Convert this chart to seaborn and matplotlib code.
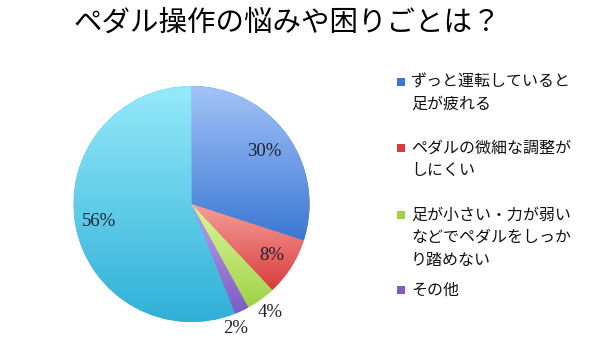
import numpy as np
import matplotlib
matplotlib.use("Agg")
import matplotlib.pyplot as plt
import seaborn as sns
from matplotlib.colors import LinearSegmentedColormap
from matplotlib.patches import Rectangle

# data
legend_lines = [["ずっと運転していると", "足が疲れる"],
                ["ペダルの微細な調整が", "しにくい"],
                ["足が小さい・力が弱い", "などでペダルをしっか", "り踏めない"],
                ["その他"]]
values = [30, 8, 4, 2, 56]
pct_labels = ["30%", "8%", "4%", "2%", "56%"]

# light (top) -> dark (bottom) per slice
grad_colors = [("#a3c4f7", "#3b77d3"),
               ("#f5a09c", "#d93c3c"),
               ("#e0f5a0", "#9fd346"),
               ("#b9a2ec", "#7d5cc4"),
               ("#95eafa", "#2fb0d8")]
label_dist = [0.76, 0.81, 1.14, 1.12, 0.80]
label_shift = [0, 0, 0, -5.5, 0]  # degrees

sns.set_style("white")
plt.rcParams["font.family"] = ["Noto Sans CJK JP", "DejaVu Sans"]

fig = plt.figure(figsize=(5.9, 3.56), dpi=100)
ax = fig.add_axes([(191.5 - 118) / 590, (356 - 204 - 118) / 356, 236 / 590, 236 / 356])

wedges, _ = ax.pie(values, startangle=90, counterclock=False, radius=1,
                   colors=[c[1] for c in grad_colors],
                   wedgeprops=dict(linewidth=0))
ax.axis("off")

# gradient fill clipped to each wedge
grad = np.linspace(1, 0, 256).reshape(-1, 1)
for w, (c0, c1) in zip(wedges, grad_colors):
    cmap = LinearSegmentedColormap.from_list("g", [c1, c0])
    pts = w.get_patch_transform().transform(w.get_path().vertices)
    x0, x1 = pts[:, 0].min(), pts[:, 0].max()
    y0, y1 = pts[:, 1].min(), pts[:, 1].max()
    im = ax.imshow(grad, cmap=cmap, extent=[x0, x1, y0, y1], aspect="auto",
                   origin="upper", zorder=2)
    im.set_clip_path(w)
ax.set_xlim(-1, 1)
ax.set_ylim(-1, 1)

for w, lab, d, s in zip(wedges, pct_labels, label_dist, label_shift):
    ang = np.deg2rad((w.theta1 + w.theta2) / 2 + s)
    ax.text(d * np.cos(ang), d * np.sin(ang), lab, ha="center", va="center",
            fontsize=13.5, family="Liberation Serif", color="#1c2233", zorder=5,
            clip_on=False)

# title
fig.text(0.487, 1 - 23 / 356, "ペダル操作の悩みや困りごとは？", ha="center", va="center",
         fontsize=20.5, color="black")

# legend
entry_y = [82, 148, 215, 290]
line_h = 22.5
for i, (lines, yy) in enumerate(zip(legend_lines, entry_y)):
    fig.patches.append(Rectangle((397 / 590, 1 - (yy + 4) / 356), 8 / 590, 8 / 356,
                                 transform=fig.transFigure, facecolor=grad_colors[i][1],
                                 edgecolor="none"))
    for j, ln in enumerate(lines):
        fig.text(411 / 590, 1 - (yy + j * line_h) / 356, ln, ha="left", va="center",
                 fontsize=11.5, color="#111111")

fig.savefig("out.png", dpi=100)
